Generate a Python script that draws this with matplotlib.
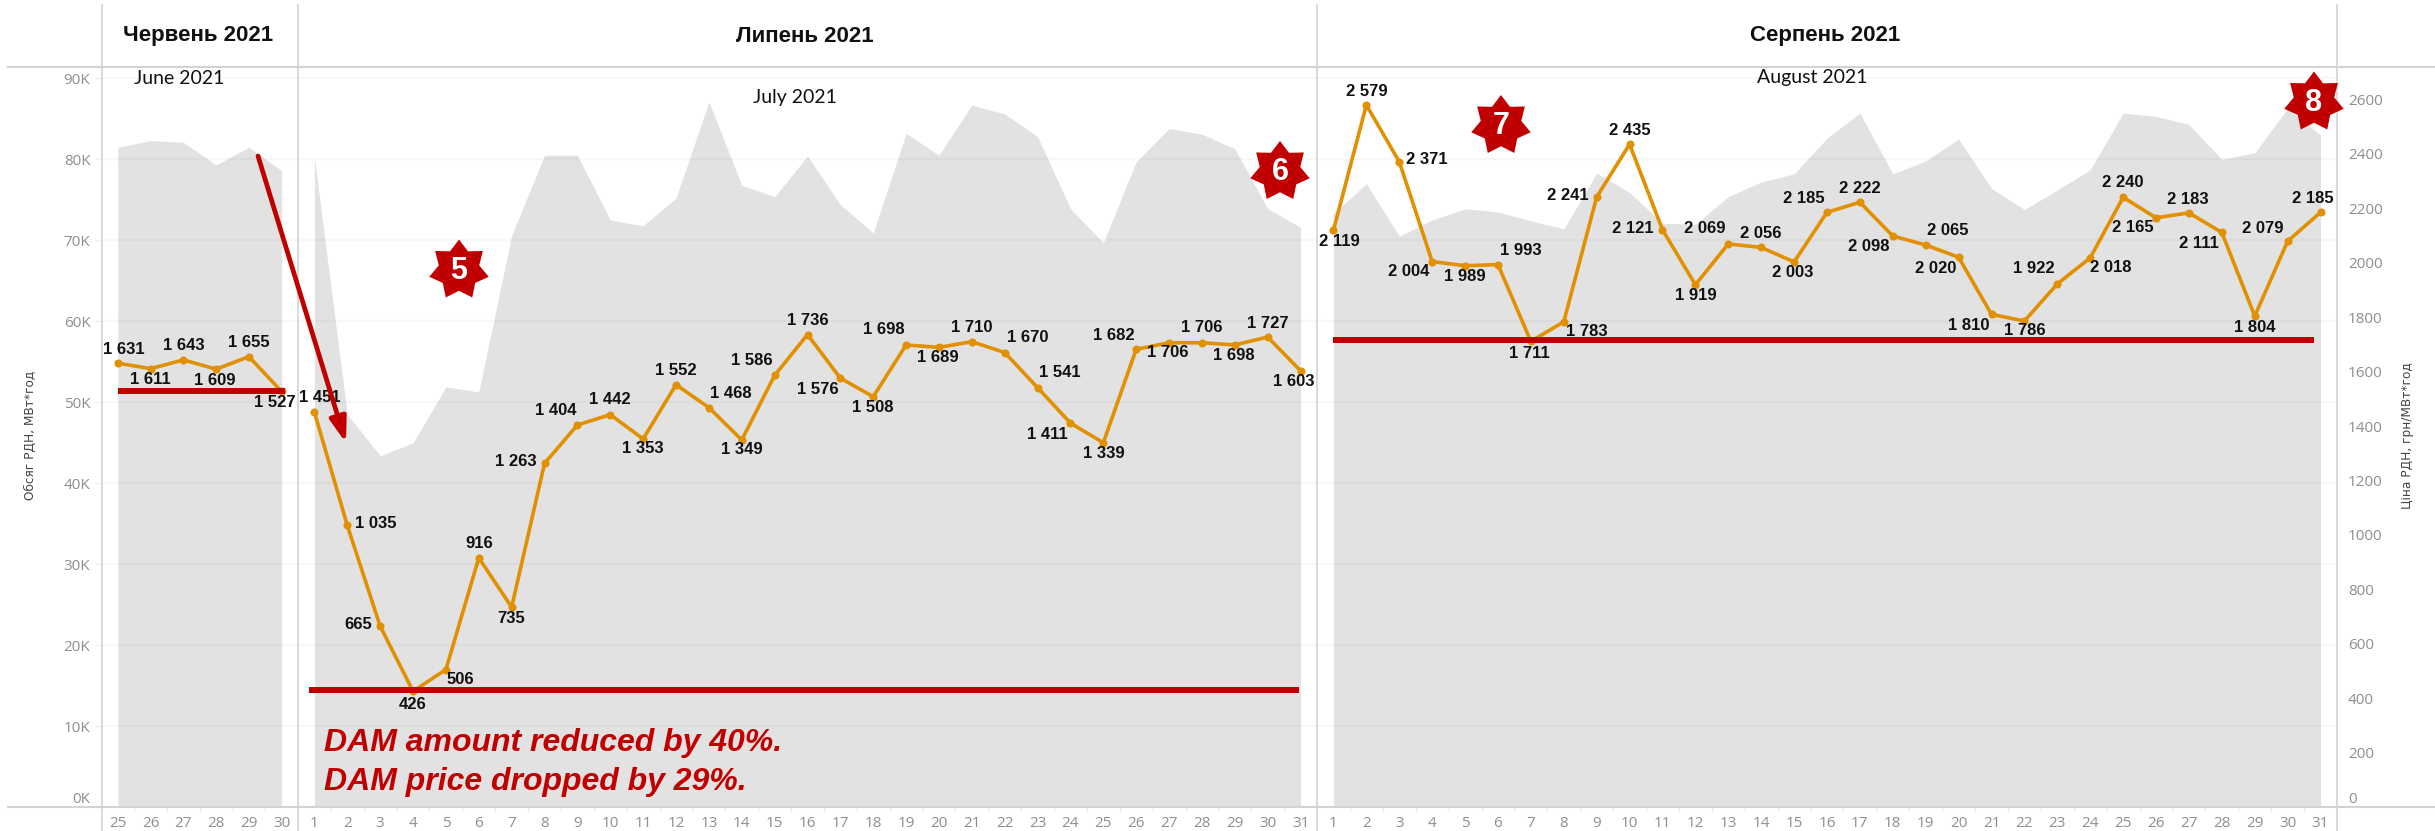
import numpy as np
import matplotlib
matplotlib.use("Agg")
import matplotlib.pyplot as plt
from matplotlib.lines import Line2D
from matplotlib.patches import Polygon, FancyArrowPatch
from matplotlib.ticker import FixedLocator

# ------------------ data ------------------
june_days = [25, 26, 27, 28, 29, 30]
july_days = list(range(1, 32))
aug_days = list(range(1, 32))

june_volume = [81.5, 82.3, 82.1, 79.3, 81.5, 78.6]
july_volume = [80.2, 48.5, 43.4, 45.0, 51.9, 51.3, 70.6, 80.5, 80.5, 72.5, 71.8, 75.2, 87.1, 76.8, 75.4,
               80.4, 74.4, 70.9, 83.2, 80.5, 86.7, 85.6, 82.8, 73.9, 69.7, 79.7, 83.8, 83.1, 81.3, 73.9, 71.6]
aug_volume = [73.3, 77.0, 70.5, 72.5, 73.9, 73.5, 72.4, 71.4, 78.3, 75.9, 72.1, 72.0, 75.4, 77.2, 78.2, 82.6,
              85.7, 78.2, 79.8, 82.5, 76.4, 73.8, 76.2, 78.7, 85.7, 85.3, 84.3, 80.0, 80.8, 86.3, 83.0]

june_price = [1631, 1611, 1643, 1609, 1655, 1527]
july_price = [1451, 1035, 665, 426, 506, 916, 735, 1263, 1404, 1442, 1353, 1552, 1468, 1349, 1586, 1736,
              1576, 1508, 1698, 1689, 1710, 1670, 1541, 1411, 1339, 1682, 1706, 1706, 1698, 1727, 1603]
aug_price = [2119, 2579, 2371, 2004, 1989, 1993, 1711, 1783, 2241, 2435, 2121, 1919, 2069, 2056, 2003, 2185,
             2222, 2098, 2065, 2020, 1810, 1786, 1922, 2018, 2240, 2165, 2183, 2111, 1804, 2079, 2185]

june_level = 1527
july_level = 431
aug_level = 1716

volume_ticks = [0, 10, 20, 30, 40, 50, 60, 70, 80, 90]
price_ticks = list(range(0, 2601, 200))

# label offsets in pixels (dx, dy up) - layout only
june_off = [(6, 14), (0, -11), (0, 14), (-1, -11), (0, 14), (-7, -11)]
july_off = [(5, 15), (28, 2), (-22, 2), (0, -13), (14, -10), (0, 14), (-1, -11), (-29, 2), (-22, 14), (0, 15),
            (0, -10), (0, 14), (22, 14), (0, -10), (-23, 15), (0, 14), (-23, -11), (0, -11), (-22, 15), (-1, -10),
            (0, 14), (23, 15), (22, 15), (-23, -11), (0, -11), (-22, 14), (-1, -10), (0, 15), (-1, -11), (0, 14),
            (-7, -11)]
aug_off = [(6, -11), (0, 14), (28, 2), (-23, -10), (0, -11), (23, 14), (-1, -12), (23, -10), (-29, 2), (0, 14),
           (-30, 1), (0, -11), (-24, 15), (0, 14), (-1, -11), (-23, 14), (0, 14), (-24, -10), (22, 15), (-23, -11),
           (-23, -11), (0, -10), (-24, 15), (21, -10), (0, 15), (-23, -10), (-1, 13), (-23, -11), (0, -11), (-25, 13),
           (-8, 14)]

# ------------------ style / layout ------------------
W, H = 2435, 831
plt.rcParams["font.family"] = ["Liberation Sans", "DejaVu Sans"]
AREA = "#e2e2e2"
ORANGE = "#e09000"
RED = "#c00000"
RULE = "#d3d3d3"
TICK = "#8e8e8e"

TOP, BOTTOM = 67.0, 807.3
VOL_MAX = (BOTTOM - TOP) / 81.0 * 10
PRICE_MAX = (BOTTOM - TOP) / 0.2723
edges = [101.5, 298.0, 1317.0, 2337.0]

fig = plt.figure(figsize=(W / 100, H / 100), dpi=100, facecolor="white")


def fx(x):
    return x / W


def fy(y):
    return 1 - y / H


def make_panel(i, days, volume, price, offs, level, lx0, lx1, left=False, right=False):
    x0, x1 = edges[i], edges[i + 1]
    ax = fig.add_axes([fx(x0), fy(BOTTOM), fx(x1 - x0), (BOTTOM - TOP) / H])
    ax.patch.set_alpha(0)
    ax.fill_between(days, 0, volume, color=AREA, lw=0, zorder=1)
    ax.set_xlim(days[0] - 0.5, days[-1] + 0.5)
    ax.set_ylim(0, VOL_MAX)
    for s in ax.spines.values():
        s.set_visible(False)
    ax.set_axisbelow(False)
    ax.yaxis.grid(True, color="black", alpha=0.028, lw=1.6)
    ax.xaxis.grid(False)
    ax.set_yticks(volume_ticks)
    if left:
        ax.set_yticklabels([f"{v}K" for v in volume_ticks], fontfamily="Open Sans", fontsize=11, color=TICK)
        ax.tick_params(axis="y", length=5, width=1, color="#efefef", pad=3)
        ax.get_yticklabels()[0].set_verticalalignment("bottom")
    else:
        ax.tick_params(axis="y", length=0, labelleft=False)
    ax.set_xticks(days)
    ax.set_xticklabels([str(d) for d in days], fontfamily="Open Sans", fontsize=11, color=TICK)
    ax.tick_params(axis="x", length=0, pad=6)
    ax.xaxis.set_minor_locator(FixedLocator([d + 0.5 for d in days[:-1]]))
    ax.tick_params(axis="x", which="minor", length=3, width=0.8, color="#e4e4e4")

    tw = ax.twinx()
    tw.patch.set_alpha(0)
    tw.set_ylim(0, PRICE_MAX)
    for s in tw.spines.values():
        s.set_visible(False)
    tw.set_yticks(price_ticks)
    if right:
        tw.set_yticklabels([str(v) for v in price_ticks], fontfamily="Open Sans", fontsize=11, color=TICK)
        tw.tick_params(axis="y", length=0, pad=8)
        tw.get_yticklabels()[0].set_verticalalignment("bottom")
    else:
        tw.tick_params(axis="y", length=0, labelright=False)
    tw.plot(days, price, color=ORANGE, lw=2.6, marker="o", ms=5.8, mew=0, zorder=3, solid_joinstyle="round")
    tw.plot([lx0, lx1], [level, level], color=RED, lw=4.3, solid_capstyle="butt", zorder=4)
    for d, v, (dx, dy) in zip(days, price, offs):
        tw.annotate(f"{v:,}".replace(",", " "), (d, v), xytext=(dx, dy), textcoords="offset pixels",
                    ha="center", va="center", fontsize=12, fontweight="bold", color="#111111", zorder=6)
    return ax, tw


make_panel(0, june_days, june_volume, june_price, june_off, june_level, 25.0, 30.1, left=True)
make_panel(1, july_days, july_volume, july_price, july_off, july_level, 0.84, 30.96)
make_panel(2, aug_days, aug_volume, aug_price, aug_off, aug_level, 1.0, 30.8, right=True)

# frame rules
for x in edges:
    fig.add_artist(Line2D([fx(x), fx(x)], [fy(5), fy(H)], color=RULE, lw=1.2))
for y in (TOP, BOTTOM):
    fig.add_artist(Line2D([fx(8), fx(W)], [fy(y), fy(y)], color=RULE, lw=1.5))

# headers
for x, s in [(198, "Червень 2021"), (805, "Липень 2021"), (1825, "Серпень 2021")]:
    fig.text(fx(x), fy(36), s, ha="center", va="center", fontsize=16, fontweight="bold", color="#111111")
for x, y, s in [(179, 78, "June 2021"), (795, 97, "July 2021"), (1812, 78, "August 2021")]:
    fig.text(fx(x), fy(y), s, ha="center", va="center", fontsize=14, family="Lato", color="#111111")

# axis titles
fig.text(fx(30), fy(435), "Обсяг РДН, МВт*год", rotation=90, ha="center", va="center",
         fontsize=8.7, family="DejaVu Sans", color="#444444")
fig.text(fx(2408), fy(436), "Ціна РДН, грн/МВт*год", rotation=90, ha="center", va="center",
         fontsize=8.7, family="DejaVu Sans", color="#444444")

# annotation text
for y, s in [(743, "DAM amount reduced by 40%."), (782, "DAM price dropped by 29%.")]:
    fig.text(fx(324), fy(y), s, ha="left", va="center", fontsize=23, fontweight="bold",
             style="italic", color=RED, zorder=8)

# arrow
fig.add_artist(FancyArrowPatch((fx(258), fy(156)), (fx(346), fy(443)), transform=fig.transFigure,
                               arrowstyle="-|>,head_length=1.5,head_width=0.5", mutation_scale=10,
                               lw=3.4, color=RED, shrinkA=0, shrinkB=0, zorder=9))


# stars
def star(cx, cy, label, R=30.5, inner=0.68):
    pts = []
    for k in range(14):
        a = np.pi / 2 + k * np.pi / 7
        r = R if k % 2 == 0 else R * inner
        pts.append((fx(cx + r * np.cos(a)), fy(cy - r * np.sin(a))))
    fig.add_artist(Polygon(pts, closed=True, transform=fig.transFigure, facecolor=RED, edgecolor="none", zorder=10))
    fig.text(fx(cx), fy(cy + 1), label, ha="center", va="center", fontsize=22, fontweight="bold",
             color="white", zorder=11)


for cx, cy, lab in [(459, 270, "5"), (1280, 171.5, "6"), (1501, 125.5, "7"), (2314, 102, "8")]:
    star(cx, cy, lab)

fig.savefig("out.png", dpi=100, facecolor="white")
